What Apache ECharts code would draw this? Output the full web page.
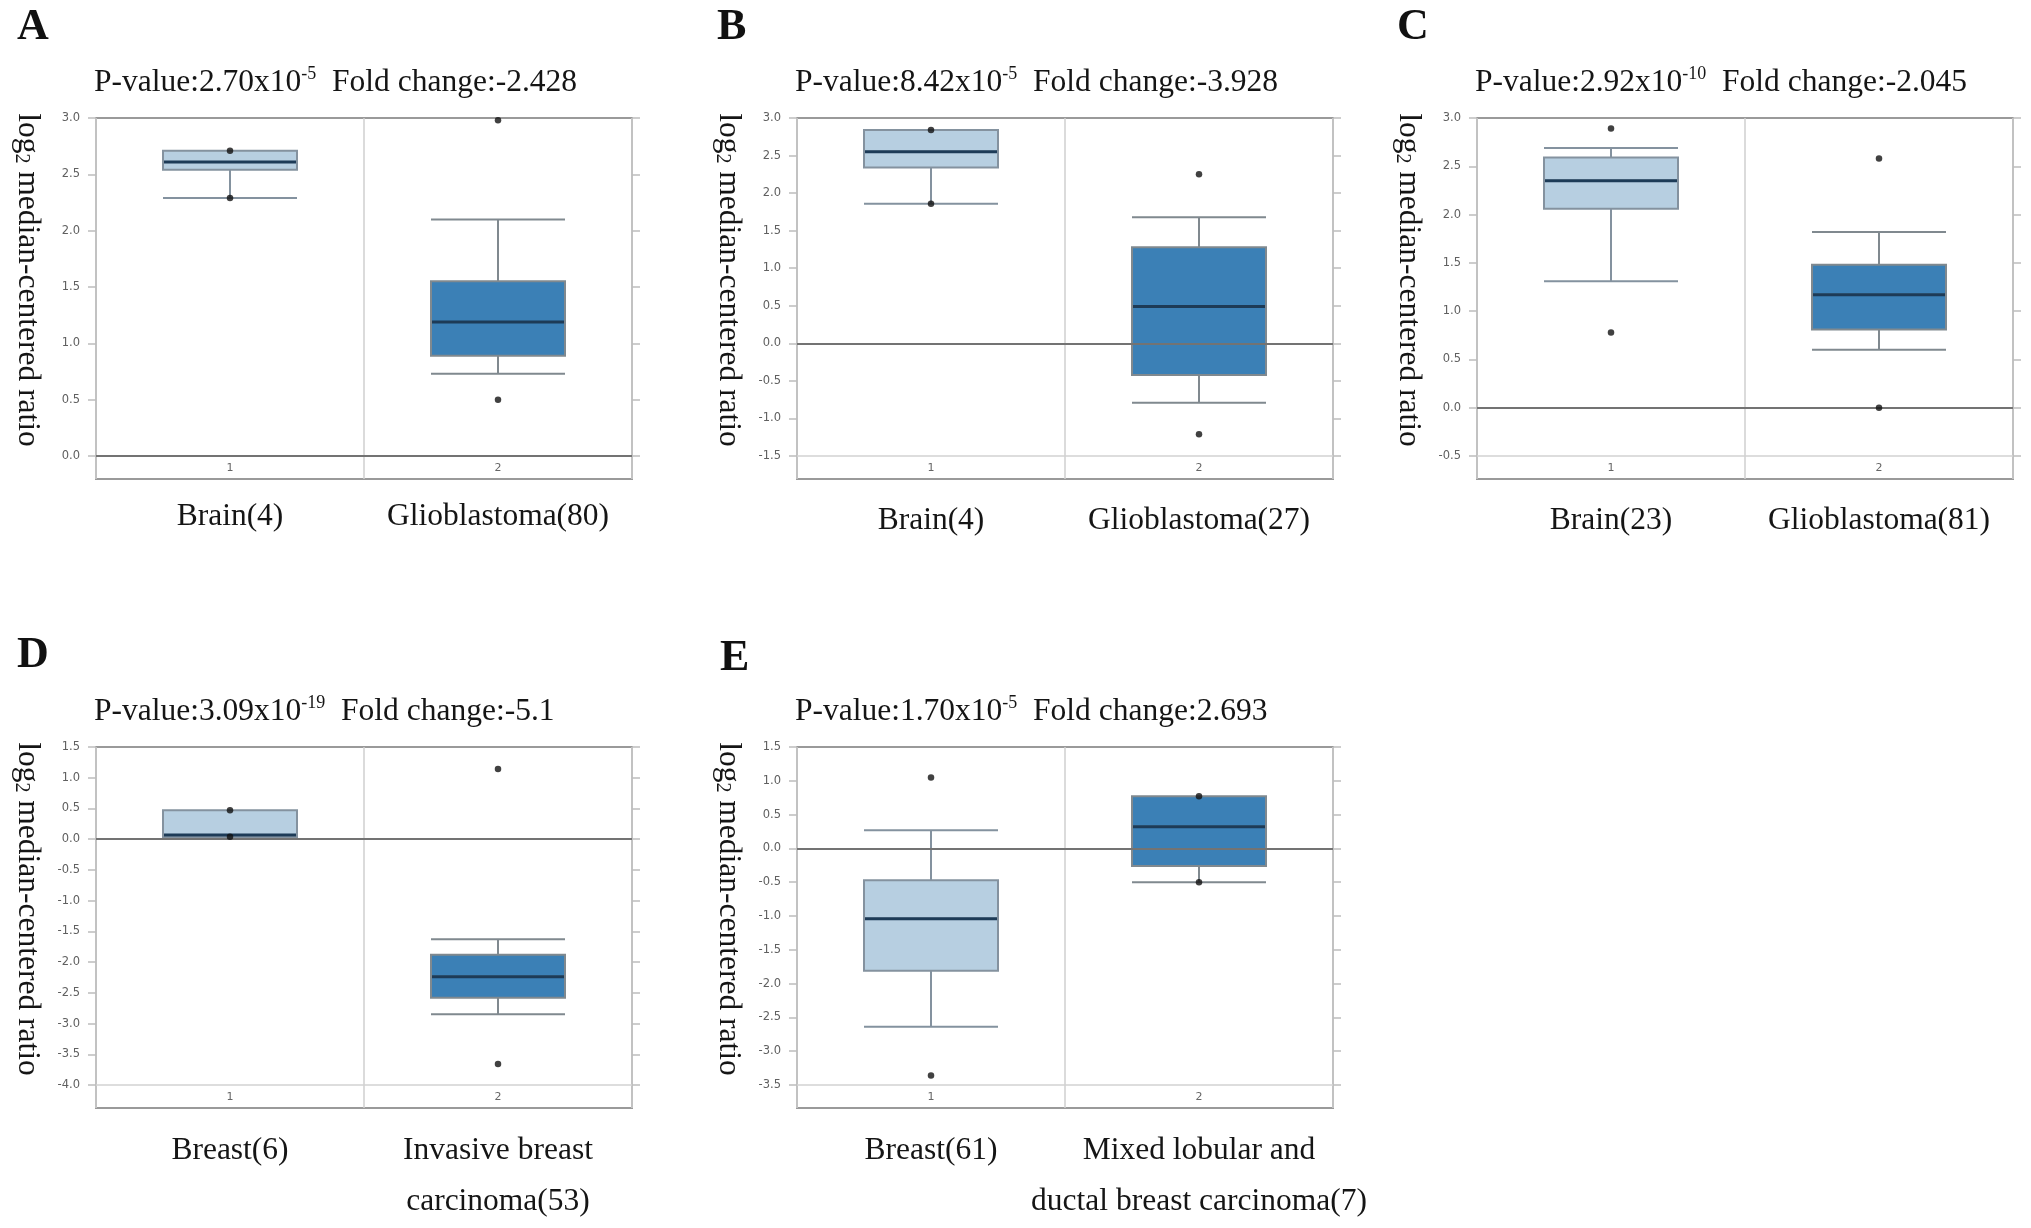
<!DOCTYPE html>
<html><head><meta charset="utf-8">
<script src="https://cdn.jsdelivr.net/npm/echarts@6/dist/echarts.min.js"></script>
<style>html,body{margin:0;padding:0;background:#fff}#c{width:2031px;height:1228px}</style>
</head><body><div id="c"></div>
<script>
// ---------------- data ----------------
const panelLetters = ['A', 'B', 'C', 'D', 'E'];
const pValueBase = ['2.70', '8.42', '2.92', '3.09', '1.70'];
const pValueExp = ['-5', '-5', '-10', '-19', '-5'];
const foldChange = ['-2.428', '-3.928', '-2.045', '-5.1', '2.693'];
const groupIds = ['1', '2'];
const groupLabelsA = ['Brain(4)', 'Glioblastoma(80)'];
const groupLabelsB = ['Brain(4)', 'Glioblastoma(27)'];
const groupLabelsC = ['Brain(23)', 'Glioblastoma(81)'];
const groupLabelsD = ['Breast(6)', 'Invasive breast\ncarcinoma(53)'];
const groupLabelsE = ['Breast(61)', 'Mixed lobular and\nductal breast carcinoma(7)'];
// [lower whisker, Q1, median, Q3, upper whisker]
const boxA = [[2.29, 2.54, 2.61, 2.71, 2.71], [0.73, 0.89, 1.19, 1.55, 2.10]];
const boxB = [[1.86, 2.34, 2.55, 2.84, 2.84], [-0.79, -0.42, 0.49, 1.28, 1.68]];
const boxC = [[1.31, 2.06, 2.35, 2.59, 2.69], [0.60, 0.81, 1.17, 1.48, 1.82]];
const boxD = [[0.02, 0.03, 0.07, 0.47, 0.47], [-2.85, -2.58, -2.24, -1.88, -1.63]];
const boxE = [[-2.64, -1.81, -1.04, -0.47, 0.27], [-0.50, -0.26, 0.32, 0.77, 0.77]];
// individual points [group index, value]
const pointsA = [[0, 2.71], [0, 2.29], [1, 2.98], [1, 0.50]];
const pointsB = [[0, 2.84], [0, 1.86], [1, 2.25], [1, -1.21]];
const pointsC = [[0, 2.89], [0, 0.78], [1, 2.58], [1, 0.00]];
const pointsD = [[0, 0.47], [0, 0.04], [1, 1.14], [1, -3.66]];
const pointsE = [[0, 1.05], [0, -3.36], [1, 0.77], [1, -0.50]];
const yMinTick = [0, -1.5, -0.5, -4.0, -3.5];
const yMaxTick = [3.0, 3.0, 3.0, 1.5, 1.5];
const yStep = 0.5;

const groupLabels = [groupLabelsA, groupLabelsB, groupLabelsC, groupLabelsD, groupLabelsE];
const boxes = [boxA, boxB, boxC, boxD, boxE];
const points = [pointsA, pointsB, pointsC, pointsD, pointsE];

// ---------------- layout / style ----------------
const LAY = {
  left: [96, 797, 1477, 96, 797],
  top: [118, 118, 118, 747, 747],
  lowTick: [456, 456, 456, 1085, 1085],
  boxBottom: [479, 479, 479, 1108, 1108],
  width: 536,
  labelMargin: [12, 16, 16, 17, 17],
  letterLeft: [17, 717, 1397, 17, 720],
  letterTop: [6, 6, 6, 634, 637],
  titleTop: [65, 65, 65, 694, 694]
};
const SERIF = 'Liberation Serif';
const FS = 31.5;
const boxFill = ['#b7cfe1', '#3b80b6'];
const boxBorder = ['#84929f', '#80898f'];

const grid = [], xAxis = [], yAxis = [], series = [], title = [];

for (let i = 0; i < 5; i++) {
  const left = LAY.left[i], top = LAY.top[i];
  grid.push({ left: left, top: top, width: LAY.width, height: LAY.lowTick[i] - top, show: false });
  grid.push({ left: left, top: top, width: LAY.width, height: LAY.boxBottom[i] - top,
    show: true, borderColor: '#9a9a9a', borderWidth: 2, backgroundColor: 'transparent' });
  const gD = 2 * i, gB = 2 * i + 1;

  xAxis.push({ type: 'category', gridIndex: gD, data: groupIds, show: false });
  xAxis.push({ type: 'category', gridIndex: gB, data: groupIds, position: 'bottom',
    axisLine: { show: false }, axisTick: { show: false },
    splitLine: { show: true, lineStyle: { color: '#cfcfcf', width: 1.5 } },
    axisLabel: { inside: true, margin: 5, fontSize: 11, color: '#666', fontFamily: 'DejaVu Sans' } });
  xAxis.push({ type: 'category', gridIndex: gB, data: groupLabels[i], position: 'bottom',
    axisLine: { show: false }, axisTick: { show: false }, splitLine: { show: false },
    axisLabel: { margin: LAY.labelMargin[i], fontSize: FS, lineHeight: 51, color: '#151515', fontFamily: SERIF, interval: 0 } });
  const xD = 3 * i;

  const yCommon = { type: 'value', gridIndex: gD, min: yMinTick[i], max: yMaxTick[i], interval: yStep,
    axisLine: { show: false }, splitLine: { show: false },
    axisTick: { show: true, length: 8, lineStyle: { color: '#bdbdbd', width: 1.5 } } };
  yAxis.push(Object.assign({}, yCommon, { position: 'left',
    axisLabel: { margin: 16, fontSize: 11.5, color: '#606060', fontFamily: 'DejaVu Sans', formatter: v => v.toFixed(1) },
    name: 'log{s|2} median-centered ratio', nameLocation: 'middle', nameRotate: -90, nameGap: 53,
    nameTextStyle: { fontFamily: SERIF, fontSize: FS, color: '#151515', lineHeight: 32, padding: [0, 14, 0, 0],
      rich: { s: { fontFamily: SERIF, fontSize: 20, color: '#151515', verticalAlign: 'bottom', lineHeight: 22 } } } }));
  yAxis.push(Object.assign({}, yCommon, { position: 'right', axisLabel: { show: false } }));
  yAxis.push({ type: 'value', gridIndex: gB, show: false });
  const yD = 3 * i;

  const bx = boxes[i];
  series.push({ type: 'boxplot', xAxisIndex: xD, yAxisIndex: yD, boxWidth: ['50%', '50%'], silent: true,
    animation: false, z: 2,
    data: bx.map((v, k) => ({ value: v, itemStyle: { color: boxFill[k], borderColor: boxBorder[k], borderWidth: 2 } })) });
  series.push({ type: 'custom', xAxisIndex: xD, yAxisIndex: yD, silent: true, animation: false, z: 4,
    coordinateSystem: 'cartesian2d',
    data: bx.map((v, k) => [k, v[2]]),
    renderItem: function (params, api) {
      const c = api.coord([api.value(0), api.value(1)]);
      const bw = api.size([1, 0])[0] * 0.5;
      return { type: 'line', shape: { x1: c[0] - bw / 2 + 1, y1: c[1], x2: c[0] + bw / 2 - 1, y2: c[1] },
        style: { stroke: '#1d3b57', lineWidth: 3, fill: null } };
    } });
  const ml = [{ yAxis: 0, lineStyle: { color: '#737373', width: 2, type: 'solid' } }];
  if (yMinTick[i] !== 0) ml.push({ yAxis: yMinTick[i], lineStyle: { color: '#d2d2d2', width: 1.5, type: 'solid' } });
  series.push({ type: 'scatter', xAxisIndex: xD, yAxisIndex: yD, silent: true, animation: false, z: 5,
    symbolSize: 6.5, itemStyle: { color: '#111' }, data: points[i],
    markLine: { silent: true, symbol: ['none', 'none'], label: { show: false }, animation: false, data: ml } });

  title.push({ text: panelLetters[i], left: LAY.letterLeft[i], top: LAY.letterTop[i], padding: 0,
    textStyle: { fontFamily: SERIF, fontSize: 44, fontWeight: 'bold', lineHeight: 44, color: '#111' } });
  title.push({ text: 'P-value:' + pValueBase[i] + 'x10{p|' + pValueExp[i] + '}  Fold change:' + foldChange[i],
    left: left - 2, top: LAY.titleTop[i], padding: 0,
    textStyle: { fontFamily: SERIF, fontSize: FS, lineHeight: 36, color: '#151515', fontWeight: 'normal',
      rich: { p: { fontFamily: SERIF, fontSize: 18, verticalAlign: 'top', lineHeight: 22, color: '#151515' } } } });
}

const chart = echarts.init(document.getElementById('c'));
chart.setOption({ backgroundColor: '#fff', animation: false, title, grid, xAxis, yAxis, series });
</script></body></html>
